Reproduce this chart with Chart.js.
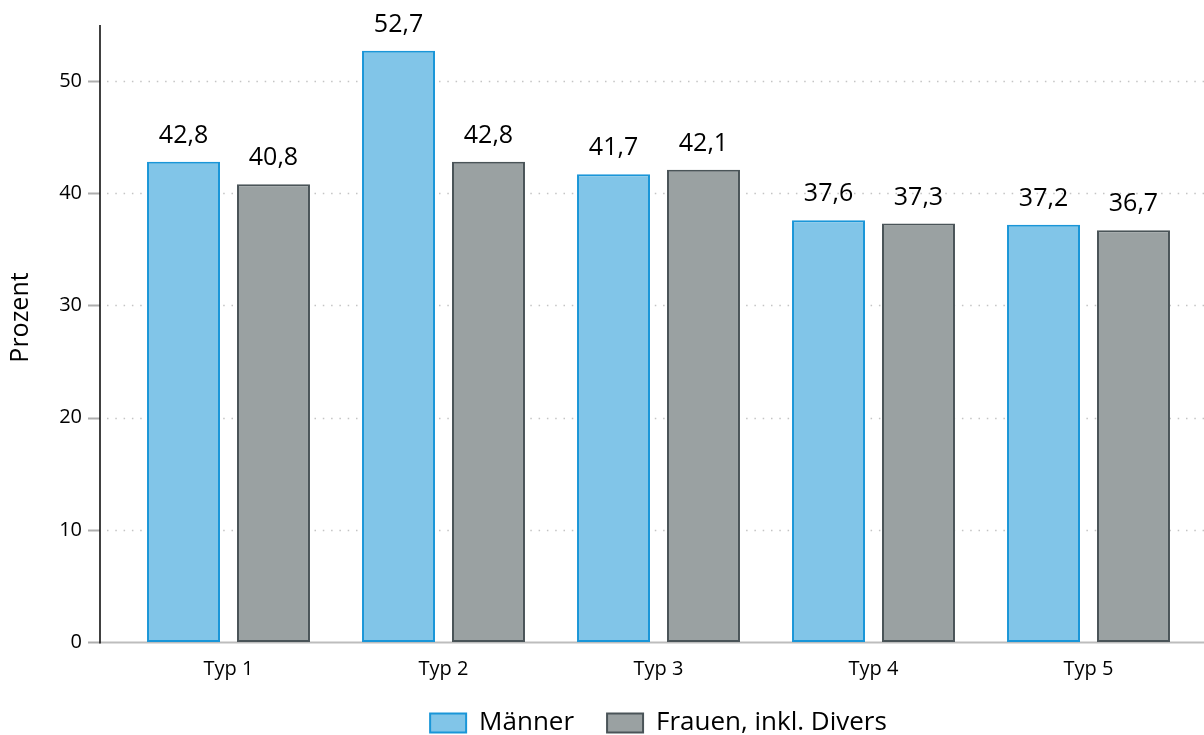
<!DOCTYPE html>
<html>
<head>
<meta charset="utf-8">
<script src="https://cdn.jsdelivr.net/npm/chart.js@4/dist/chart.umd.min.js"></script>
<style>
  html, body { margin: 0; padding: 0; background: #fff; overflow: hidden; }
  #wrap { position: relative; width: 1204px; height: 746px; }
</style>
</head>
<body>
<div id="wrap"><canvas id="chart"></canvas></div>
<script>
const categories = ['Typ 1', 'Typ 2', 'Typ 3', 'Typ 4', 'Typ 5'];
const maenner = [42.8, 52.7, 41.7, 37.6, 37.2];
const frauen = [40.8, 42.8, 42.1, 37.3, 36.7];
const seriesNames = ['Männer', 'Frauen, inkl. Divers'];
const yTicks = [0, 10, 20, 30, 40, 50];
const yTitle = 'Prozent';

const FONT = '"Open Sans", "Noto Sans", sans-serif';

// axis line, tick marks and dotted grid, drawn a bit left of the plot area like the original
const axisPlugin = {
  id: 'axisLines',
  beforeDraw(chart) {
    // x labels get clipped to the (shrunk) axis box otherwise
    chart.scales.x.bottom = chart.height;
  },
  beforeDatasetsDraw(chart) {
    const { ctx, chartArea, scales } = chart;
    const y = scales.y;
    const ax = chartArea.left - 21;
    ctx.save();
    yTicks.forEach(v => {
      const py = Math.round(y.getPixelForValue(v)) + 0.5;
      if (v > 0) {
        ctx.strokeStyle = '#c4c4c4';
        ctx.lineWidth = 1.5;
        ctx.setLineDash([1.5, 6.8]);
        ctx.beginPath();
        ctx.moveTo(ax + 7, py);
        ctx.lineTo(chart.width, py);
        ctx.stroke();
      }
      ctx.setLineDash([]);
      ctx.strokeStyle = '#adadad';
      ctx.lineWidth = 2;
      ctx.beginPath();
      ctx.moveTo(ax - 12, py);
      ctx.lineTo(ax, py);
      ctx.stroke();
    });
    const zero = Math.round(y.getPixelForValue(0)) + 0.5;
    ctx.strokeStyle = '#bdbdbd';
    ctx.lineWidth = 2;
    ctx.beginPath();
    ctx.moveTo(ax, zero);
    ctx.lineTo(chart.width, zero);
    ctx.stroke();
    ctx.strokeStyle = '#111';
    ctx.lineWidth = 1.6;
    ctx.beginPath();
    ctx.moveTo(ax, chartArea.top);
    ctx.lineTo(ax, zero + 1);
    ctx.stroke();

    // y title, sits a little above the middle in the original
    ctx.translate(21, (chartArea.top + chartArea.bottom) / 2 - 16);
    ctx.rotate(-Math.PI / 2);
    ctx.font = '25px ' + FONT;
    ctx.fillStyle = '#000';
    ctx.textAlign = 'center';
    ctx.textBaseline = 'middle';
    ctx.fillText(yTitle, 0, 0);
    ctx.restore();
  }
};

const valueLabels = {
  id: 'valueLabels',
  afterDatasetsDraw(chart) {
    const { ctx } = chart;
    ctx.save();
    ctx.font = '25px ' + FONT;
    ctx.fillStyle = '#000';
    ctx.textAlign = 'center';
    ctx.textBaseline = 'alphabetic';
    chart.data.datasets.forEach((ds, i) => {
      chart.getDatasetMeta(i).data.forEach((bar, j) => {
        ctx.fillText(ds.data[j].toFixed(1).replace('.', ','), bar.x, bar.y - 19);
      });
    });
    ctx.restore();
  }
};

new Chart(document.getElementById('chart'), {
  type: 'bar',
  data: {
    labels: categories,
    datasets: [
      {
        label: seriesNames[0],
        data: maenner,
        backgroundColor: '#81c5e8',
        borderColor: '#1a96d8',
        borderWidth: 2,
        borderSkipped: false,
        categoryPercentage: 0.837,
        barPercentage: 0.811
      },
      {
        label: seriesNames[1],
        data: frauen,
        backgroundColor: '#9aa1a2',
        borderColor: '#4a5458',
        borderWidth: 2,
        borderSkipped: false,
        categoryPercentage: 0.837,
        barPercentage: 0.811
      }
    ]
  },
  options: {
    responsive: true,
    maintainAspectRatio: false,
    animation: false,
    layout: { padding: { top: 25, right: 8, left: 0, bottom: 0 } },
    plugins: {
      legend: {
        position: 'bottom',
        fullSize: false,
        labels: {
          font: { family: FONT, size: 26 },
          color: '#000',
          boxWidth: 36,
          boxHeight: 19,
          padding: 33
        }
      },
      tooltip: { enabled: false }
    },
    scales: {
      x: {
        afterFit(scale) {
          scale.height -= 19;
          scale.paddingTop = 0;
          scale.paddingBottom = 0;
        },
        grid: { display: false, drawTicks: false },
        border: { display: false },
        ticks: { font: { family: FONT, size: 20 }, color: '#000', padding: 15 }
      },
      y: {
        min: 0,
        max: 55,
        afterFit(scale) {
          scale.width = 121;
          scale.paddingTop = 0;
          scale.paddingBottom = 0;
        },
        grid: { display: false, drawTicks: false },
        border: { display: false },
        ticks: {
          stepSize: 10,
          includeBounds: false,
          font: { family: FONT, size: 20 },
          color: '#000',
          padding: 39
        }
      }
    }
  },
  plugins: [axisPlugin, valueLabels]
});
</script>
</body>
</html>
